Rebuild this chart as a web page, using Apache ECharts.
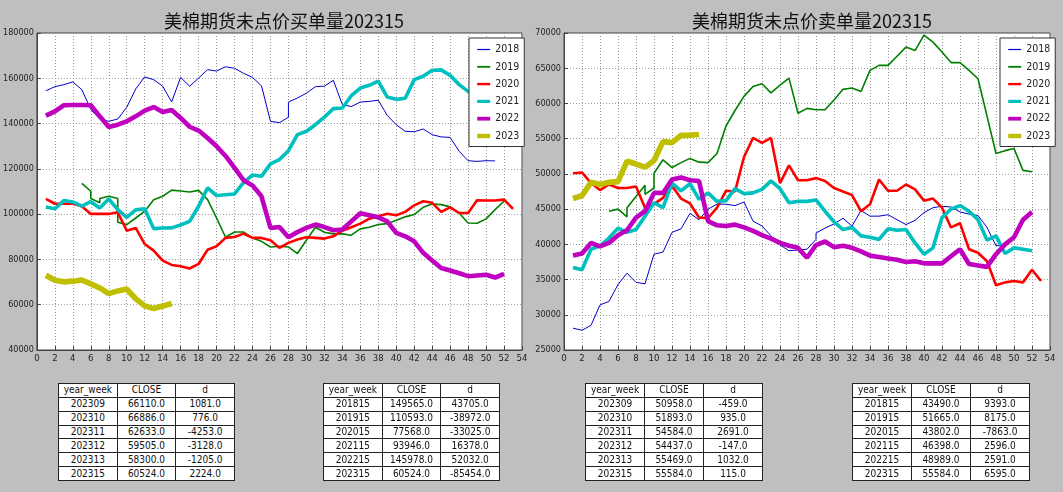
<!DOCTYPE html>
<html><head><meta charset="utf-8">
<script src="https://cdn.jsdelivr.net/npm/echarts@6/dist/echarts.min.js"></script>
<style>
html,body{margin:0;padding:0;background:#bfbfbf;}
#wrap{position:relative;width:1063px;height:492px;overflow:hidden;}
#chart{position:absolute;left:0;top:0;width:1063px;height:492px;}
table.t{position:absolute;border-collapse:collapse;background:#fff;table-layout:fixed;
 font-family:"Liberation Sans Narrow","DejaVu Sans Condensed","Arial Narrow",sans-serif;font-size:10px;color:#111;}
table.t td{border:1px solid #222;text-align:center;padding:0 0 1px 0;line-height:11px;vertical-align:middle;}
</style></head>
<body><div id="wrap"><div id="chart"></div></div>
<script>
// ---------- data ----------
const years = ['2018','2019','2020','2021','2022','2023'];
const titleBuy = '美棉期货未点价买单量202315';
const titleSell = '美棉期货未点价卖单量202315';

// left chart (buy) : [week, value]
const buy2018 = [[1,154500],[2,156300],[3,157200],[4,158400],[5,155000],[6,146200],[7,142000],[8,141000],[9,142000],[10,147200],[11,155300],[12,160600],[13,159400],[14,156500],[15,149565],[16,160400],[17,156500],[18,160100],[19,163800],[20,163200],[21,165100],[22,164400],[23,162200],[24,160400],[25,156700],[26,141000],[27,140400],[28,142800],[28,149500],[29,151300],[30,153400],[31,156300],[32,156500],[33,159100],[34,148400],[35,147500],[36,149500],[37,149800],[38,150300],[39,143600],[40,139500],[41,136600],[42,136400],[43,137600],[44,135100],[45,134100],[46,133900],[47,127800],[48,123600],[49,123300],[50,123600],[51,123500]];
const buy2019 = [[5,113600],[6,110100],[6,106900],[7,105000],[7,106900],[8,107900],[9,106900],[9,96400],[10,95400],[11,98300],[12,101300],[13,106400],[14,107900],[15,110593],[16,110200],[17,109800],[18,110500],[19,106400],[20,98300],[21,89800],[22,92100],[23,92100],[24,89500],[25,88000],[26,85500],[27,85800],[28,85500],[29,82600],[30,88500],[31,94200],[32,92000],[33,91300],[34,91300],[35,90700],[36,93500],[37,94200],[38,95400],[39,95800],[40,97300],[41,98800],[42,99800],[43,103000],[44,104500],[45,104200],[46,103200],[47,100500],[48,96100],[49,96000],[50,97900],[51,102000],[52,105700]];
const buy2020 = [[1,106700],[2,104600],[3,104600],[4,104600],[5,103500],[6,100100],[7,100100],[8,100100],[9,100800],[10,92700],[11,93900],[12,86800],[13,83900],[14,79500],[15,77568],[16,77000],[17,76000],[18,78000],[19,84300],[20,85800],[21,89500],[22,89900],[23,91400],[24,89500],[25,89500],[26,88500],[27,85100],[28,87300],[29,88800],[30,89800],[31,89500],[32,89200],[33,90200],[34,92700],[35,94200],[36,95800],[37,98000],[38,99100],[39,100200],[40,99500],[41,101000],[42,103900],[43,105700],[44,105000],[45,101000],[46,103000],[47,100500],[48,100500],[49,106100],[50,106000],[51,106000],[52,106400],[53,102300]];
const buy2021 = [[1,103200],[2,102400],[3,106000],[4,105400],[5,103500],[6,105500],[7,102700],[8,106700],[9,102000],[10,98600],[11,101900],[12,102400],[13,93600],[14,93900],[15,93946],[16,95200],[17,96800],[18,103500],[19,111600],[20,108200],[21,108600],[22,108900],[23,113900],[24,117300],[25,116700],[26,122200],[27,124100],[28,128000],[29,135100],[30,136600],[31,139500],[32,142800],[33,146600],[34,146900],[35,152300],[36,155700],[37,156900],[38,158700],[39,151700],[40,150700],[41,151200],[42,159400],[43,160900],[44,163500],[45,163700],[46,161300],[47,157200],[48,154200],[49,151000],[50,149500],[51,150000],[52,151000]];
const buy2022 = [[1,143500],[2,145400],[3,148100],[4,148200],[5,148200],[6,148100],[7,143200],[8,138500],[9,139500],[10,141000],[11,143200],[12,145700],[13,147300],[14,145100],[15,145978],[16,142500],[17,138600],[18,136900],[19,133600],[20,130000],[21,125700],[22,120400],[23,115000],[24,112700],[25,107900],[26,93900],[27,94300],[28,89800],[29,92100],[30,93900],[31,95400],[32,94300],[33,92900],[34,93200],[35,96800],[36,100400],[37,99500],[38,98600],[39,96800],[40,91700],[41,90200],[42,88000],[43,82900],[44,79500],[45,76200],[46,75100],[47,73900],[48,72600],[49,72900],[50,73200],[51,72000],[52,73600]];
const buy2023 = [[1,73000],[2,70800],[3,70100],[4,70400],[5,70900],[6,69200],[7,67400],[8,64900],[9,66110],[10,66886],[11,62633],[12,59505],[13,58300],[14,59400],[15,60524]];

// right chart (sell)
const sell2018 = [[1,28100],[2,27800],[3,28500],[4,31400],[5,31900],[6,34300],[7,35900],[8,34600],[9,34400],[10,38600],[11,38900],[12,41700],[13,42200],[14,44400],[15,43490],[16,45000],[17,45700],[18,45700],[19,45500],[20,46000],[21,43300],[22,42600],[23,41200],[24,39900],[25,39100],[26,39200],[27,39300],[28,40700],[28,41600],[29,42300],[30,42900],[31,43700],[32,42600],[33,44800],[34,44000],[35,44000],[36,44200],[37,43500],[38,42800],[39,43400],[40,44500],[41,45200],[42,45400],[43,45300],[44,44600],[45,44300],[46,44100],[47,42400],[48,39800],[49,39900]];
const sell2019 = [[5,44700],[6,45000],[7,43900],[7,45200],[8,46800],[9,48400],[9,47100],[10,48000],[10,50100],[11,52000],[12,50900],[13,51600],[14,52200],[15,51665],[16,51600],[17,52900],[18,56800],[19,59000],[20,61000],[21,62400],[22,62800],[23,61500],[24,62600],[25,63600],[26,58600],[27,59300],[28,59100],[29,59100],[30,60500],[31,62000],[32,62200],[33,61700],[34,64700],[35,65400],[36,65400],[37,66700],[38,68000],[39,67500],[40,69700],[41,68700],[42,67300],[43,65800],[44,65800],[45,64700],[46,63500],[47,58200],[48,52900],[49,53300],[50,53600],[51,50500],[52,50300]];
const sell2020 = [[1,50100],[2,50200],[3,48700],[4,47700],[5,48500],[6,48000],[7,48000],[8,48200],[9,45200],[10,45700],[11,46600],[12,48300],[13,46500],[14,45800],[15,43802],[16,43700],[17,45200],[18,47600],[19,47500],[20,52400],[21,55100],[22,54400],[23,55100],[24,48700],[25,51200],[26,49100],[27,49100],[28,49400],[29,49000],[30,48000],[31,47500],[32,47000],[33,44700],[34,45700],[35,49200],[36,47600],[37,47600],[38,48500],[39,47800],[40,46200],[41,46500],[42,45200],[43,42400],[44,43000],[45,39300],[46,38800],[47,37600],[48,34200],[49,34600],[50,34800],[51,34600],[52,36400],[53,34800]];
const sell2021 = [[1,36700],[2,36400],[3,39300],[4,39800],[5,40900],[6,42300],[7,41700],[8,42100],[9,44000],[10,45900],[11,45200],[12,48700],[13,47600],[14,48600],[15,46398],[16,47300],[17,46100],[18,46200],[19,47900],[20,47200],[21,47300],[22,47800],[23,49000],[24,47900],[25,45900],[26,46100],[27,46100],[28,46300],[29,44700],[30,43200],[31,42100],[32,42400],[33,41200],[34,41000],[35,40700],[36,42200],[37,42000],[38,42100],[39,40200],[40,38600],[41,39500],[42,43800],[43,45000],[44,45500],[45,44700],[46,43500],[47,40600],[48,41200],[49,38700],[50,39500],[51,39300],[52,39100]];
const sell2022 = [[1,38400],[2,38700],[3,40200],[4,39700],[5,40200],[6,41300],[7,42000],[8,43800],[9,44700],[10,47300],[11,47300],[12,49200],[13,49500],[14,49100],[15,48989],[16,43300],[17,42700],[18,42600],[19,42800],[20,42400],[21,41900],[22,41300],[23,40800],[24,40200],[25,39800],[26,39500],[27,38100],[28,39900],[29,40400],[30,39600],[31,39800],[32,39500],[33,39000],[34,38400],[35,38200],[36,38000],[37,37800],[38,37500],[39,37600],[40,37300],[41,37300],[42,37300],[43,38300],[44,39300],[45,37200],[46,37000],[47,36800],[48,38600],[49,40000],[50,41000],[51,43500],[52,44600]];
const sell2023 = [[1,46500],[2,46900],[3,48800],[4,48500],[5,48800],[6,48900],[7,51800],[8,51400],[9,50958],[10,51893],[11,54584],[12,54437],[13,55469],[14,55500],[15,55584]];

// tables
const tableHead = ['year_week','CLOSE','d'];
const buyRecentRows = [['202309','66110.0','1081.0'],['202310','66886.0','776.0'],['202311','62633.0','-4253.0'],['202312','59505.0','-3128.0'],['202313','58300.0','-1205.0'],['202315','60524.0','2224.0']];
const buyYearRows = [['201815','149565.0','43705.0'],['201915','110593.0','-38972.0'],['202015','77568.0','-33025.0'],['202115','93946.0','16378.0'],['202215','145978.0','52032.0'],['202315','60524.0','-85454.0']];
const sellRecentRows = [['202309','50958.0','-459.0'],['202310','51893.0','935.0'],['202311','54584.0','2691.0'],['202312','54437.0','-147.0'],['202313','55469.0','1032.0'],['202315','55584.0','115.0']];
const sellYearRows = [['201815','43490.0','9393.0'],['201915','51665.0','8175.0'],['202015','43802.0','-7863.0'],['202115','46398.0','2596.0'],['202215','48989.0','2591.0'],['202315','55584.0','6595.0']];

// ---------- style ----------
const colors = ['#0000cc','#007f00','#ff0000','#00bfbf','#bf00bf','#bfbf00'];
const widths = [1,1.6,2.6,3.6,4.6,5.6];
const legendWidths = [1.2,1.8,2.4,3.2,3.8,4.4];
const narrow = '"Liberation Sans Narrow","DejaVu Sans Condensed","Arial Narrow",sans-serif';

const buyData = [buy2018,buy2019,buy2020,buy2021,buy2022,buy2023];
const sellData = [sell2018,sell2019,sell2020,sell2021,sell2022,sell2023];

function xAxis(gi){
  return {gridIndex:gi,type:'value',min:0,max:54,interval:2,
    axisLine:{show:true,lineStyle:{color:'#444',width:1}},
    axisTick:{show:true,inside:true,length:4,lineStyle:{color:'#444'}},
    axisLabel:{fontSize:9.5,color:'#222',margin:4,fontFamily:narrow,showMaxLabel:true,showMinLabel:true,
      formatter:v=>String(v)},
    splitLine:{show:true,lineStyle:{color:'#9a9a9a',type:[1,2],width:1}}};
}
function yAxis(gi,min,max,interval){
  return {gridIndex:gi,type:'value',min:min,max:max,interval:interval,
    axisLine:{show:true,lineStyle:{color:'#444',width:1}},
    axisTick:{show:true,inside:true,length:4,lineStyle:{color:'#444'}},
    axisLabel:{fontSize:9,color:'#222',margin:3,fontFamily:narrow,showMaxLabel:true,showMinLabel:true,
      formatter:v=>String(v)},
    splitLine:{show:true,lineStyle:{color:'#9a9a9a',type:[1,2],width:1}}};
}
function legend(left){
  return {left:left,top:38,orient:'vertical',backgroundColor:'#fff',borderColor:'#333',borderWidth:1,
    borderRadius:0,padding:[6,5,5,6],itemWidth:13,itemHeight:10,itemGap:6.3,
    textStyle:{fontSize:10.5,color:'#222',fontFamily:narrow},
    itemStyle:{color:'rgba(0,0,0,0)',borderColor:'rgba(0,0,0,0)',borderWidth:0,opacity:0},
    data:years.map((y,i)=>({name:y,lineStyle:{width:legendWidths[i],color:colors[i],opacity:1}})),
    selectedMode:false,z:10};
}
const series=[];
[buyData,sellData].forEach((set,gi)=>{
  set.forEach((d,i)=>{
    series.push({name:years[i],type:'line',xAxisIndex:gi,yAxisIndex:gi,data:d,
      symbol:'none',showSymbol:false,smooth:false,
      lineStyle:{color:colors[i],width:widths[i]},itemStyle:{color:colors[i]},z:2+i*0.01});
  });
});
const titleStyle={fontFamily:'"Noto Sans CJK SC",sans-serif',fontSize:18,fontWeight:'normal',color:'#111'};
const option={
  backgroundColor:'#bfbfbf',animation:false,
  title:[{text:titleBuy,left:279,top:7,textAlign:'center',textStyle:titleStyle},
         {text:titleSell,left:807,top:7,textAlign:'center',textStyle:titleStyle}],
  grid:[{left:36,top:33,width:486,height:317,show:true,backgroundColor:'#fff',borderColor:'#444',borderWidth:1},
        {left:564,top:33,width:486,height:317,show:true,backgroundColor:'#fff',borderColor:'#444',borderWidth:1}],
  xAxis:[xAxis(0),xAxis(1)],
  yAxis:[yAxis(0,40000,180000,20000),yAxis(1,25000,70000,5000)],
  legend:[legend(469),legend(1000)],
  series:series
};
const chart=echarts.init(document.getElementById('chart'),null,{renderer:'canvas'});
chart.setOption(option);

// tables
function makeTable(rows,left,top,width,height){
  const t=document.createElement('table');t.className='t';
  t.style.left=left+'px';t.style.top=top+'px';t.style.width=width+'px';t.style.height=height+'px';
  [tableHead].concat(rows).forEach(r=>{
    const tr=document.createElement('tr');
    r.forEach(c=>{const td=document.createElement('td');td.textContent=c;tr.appendChild(td);});
    t.appendChild(tr);
  });
  document.getElementById('wrap').appendChild(t);
}
makeTable(buyRecentRows,58,383,177,98);
makeTable(buyYearRows,323,383,177,98);
makeTable(sellRecentRows,585,383,178,98);
makeTable(sellYearRows,852,383,178,98);
</script></body></html>
